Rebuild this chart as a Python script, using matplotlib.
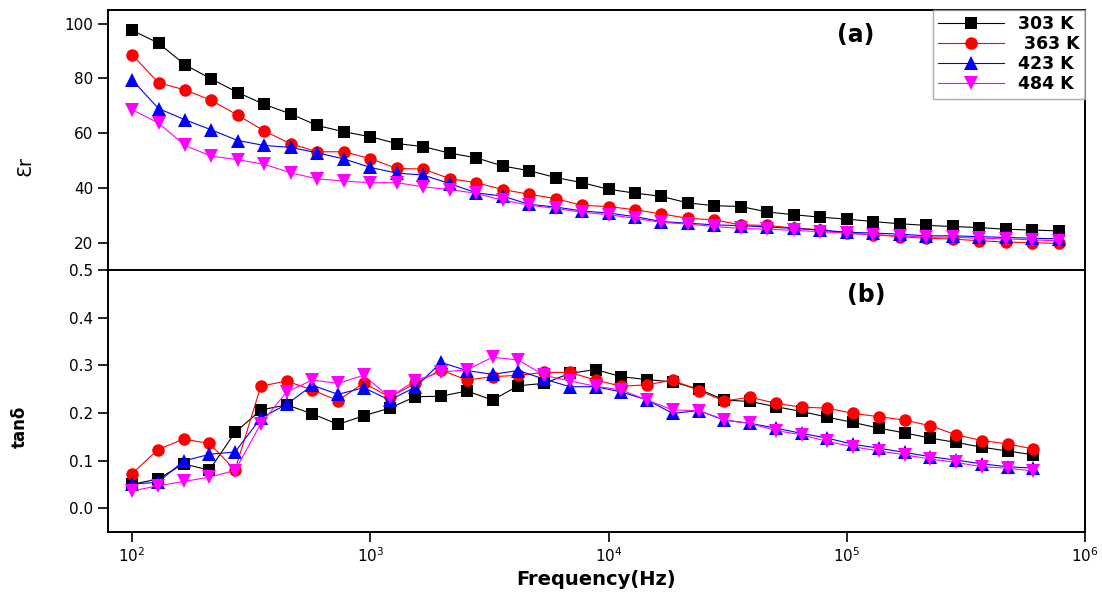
import matplotlib
matplotlib.use("Agg")
import matplotlib.pyplot as plt
from matplotlib.ticker import LogLocator, NullLocator, FixedLocator

plt.rcParams["font.family"] = ["DejaVu Sans"]

# --- data -------------------------------------------------------------------
labels = ["303 K", " 363 K", "423 K", "484 K"]

# frequency points of panel (a)
freq_eps = [100, 129.2, 166.8, 215.4, 278.3, 359.4, 464.2, 599.5, 774.3,
            1000, 1292, 1668, 2154, 2783, 3594, 4642, 5995, 7743,
            10000, 12915, 16681, 21544, 27826, 35938, 46416, 59948, 77426,
            100000, 129155, 166810, 215443, 278256, 359381, 464159, 599484,
            774264]

# frequency points of panel (b)
freq_tan = [100, 128.3, 164.6, 211.1, 270.7, 347.3, 445.5, 571.4, 732.8,
            939.6, 1205, 1546, 1983, 2543, 3261, 4183, 5366, 6882, 8827,
            11321, 14521, 18626, 23889, 30641, 39300, 50408, 64657, 82929,
            106360, 136430, 174980, 224420, 287920, 369250, 473600, 607530]

eps_303 = [97.6, 92.9, 85.0, 79.8, 74.8, 70.5, 67.0, 62.8, 60.5, 58.7,
           56.2, 55.1, 52.7, 51.0, 48.0, 46.3, 43.8, 41.9,
           39.5, 38.1, 36.9, 34.5, 33.5, 33.2, 31.2, 30.2, 29.3,
           28.6, 27.7, 26.9, 26.3, 25.9, 25.5, 24.9, 24.6, 24.3]
eps_363 = [88.7, 78.4, 75.8, 72.0, 66.5, 60.8, 56.1, 53.2, 53.2, 50.7,
           47.1, 46.9, 43.4, 41.9, 39.4, 37.7, 36.1, 33.6,
           33.2, 32.0, 30.5, 28.9, 28.3, 26.5, 26.3, 25.3, 24.7,
           23.4, 22.9, 22.2, 21.6, 21.3, 20.7, 20.2, 20.0, 19.7]
eps_423 = [79.5, 69.0, 64.9, 61.2, 57.3, 55.5, 54.8, 52.8, 50.6, 47.5,
           45.4, 44.7, 41.6, 38.2, 37.0, 34.0, 33.0, 31.6,
           30.8, 29.5, 27.7, 27.1, 26.5, 26.2, 25.7, 25.2, 24.6,
           23.8, 23.5, 23.1, 22.5, 22.5, 22.2, 21.9, 21.6, 21.4]
eps_484 = [68.6, 63.7, 55.5, 51.6, 50.3, 48.6, 45.5, 43.3, 42.5, 41.9,
           41.9, 40.4, 39.4, 38.0, 35.5, 33.7, 32.5, 31.1,
           30.2, 28.9, 27.4, 26.8, 25.9, 25.2, 24.9, 24.5, 24.0,
           23.5, 22.9, 22.5, 22.0, 22.0, 21.6, 21.4, 21.0, 20.7]

tan_303 = [0.050, 0.061, 0.093, 0.080, 0.159, 0.206, 0.217, 0.198, 0.176, 0.194,
           0.210, 0.234, 0.235, 0.246, 0.227, 0.257, 0.262, 0.283, 0.291,
           0.276, 0.270, 0.265, 0.250, 0.227, 0.224,
           0.213, 0.203, 0.191, 0.180, 0.168, 0.158, 0.147, 0.138, 0.128,
           0.120, 0.112]
tan_363 = [0.072, 0.123, 0.145, 0.136, 0.080, 0.256, 0.267, 0.248, 0.226, 0.263,
           0.233, 0.262, 0.290, 0.269, 0.276, 0.279, 0.285, 0.285, 0.269,
           0.256, 0.259, 0.269, 0.247, 0.225, 0.233,
           0.220, 0.212, 0.210, 0.199, 0.192, 0.185, 0.173, 0.154, 0.142,
           0.135, 0.124]
tan_423 = [0.051, 0.054, 0.099, 0.113, 0.118, 0.189, 0.218, 0.258, 0.239, 0.253,
           0.227, 0.254, 0.306, 0.289, 0.281, 0.289, 0.271, 0.255, 0.255,
           0.244, 0.227, 0.199, 0.205, 0.185, 0.178,
           0.168, 0.157, 0.147, 0.134, 0.126, 0.117, 0.108, 0.101, 0.093,
           0.087, 0.084]
tan_484 = [0.036, 0.047, 0.056, 0.065, 0.079, 0.177, 0.244, 0.269, 0.262, 0.279,
           0.233, 0.268, 0.286, 0.290, 0.317, 0.311, 0.279, 0.267, 0.256,
           0.248, 0.227, 0.206, 0.205, 0.185, 0.178,
           0.163, 0.154, 0.140, 0.129, 0.120, 0.112, 0.103, 0.096, 0.087,
           0.084, 0.078]

eps_series = [eps_303, eps_363, eps_423, eps_484]
tan_series = [tan_303, tan_363, tan_423, tan_484]
colors = ["black", "red", "blue", "magenta"]
markers = ["s", "o", "^", "v"]
msizes = [8, 9, 9.5, 9.5]

# --- figure -----------------------------------------------------------------
fig = plt.figure(figsize=(11.02, 5.95), dpi=100)
ax1 = fig.add_axes([0.098, 0.5462, 0.8866, 0.4370])
ax2 = fig.add_axes([0.098, 0.1059, 0.8866, 0.4403])

for ys, c, m, ms, lab in zip(eps_series, colors, markers, msizes, labels):
    ax1.plot(freq_eps, ys, color=c, marker=m, markersize=ms, lw=0.8,
             markeredgewidth=0, label=lab)
for ys, c, m, ms in zip(tan_series, colors, markers, msizes):
    ax2.plot(freq_tan, ys, color=c, marker=m, markersize=ms, lw=0.8,
             markeredgewidth=0)

for ax in (ax1, ax2):
    ax.set_xscale("log")
    ax.set_xlim(79.3, 1e6)
    for s in ax.spines.values():
        s.set_linewidth(1.4)
    ax.tick_params(axis="both", which="major", direction="out", length=7,
                   width=1.2, labelsize=11, top=False, right=False)
    ax.tick_params(axis="x", which="minor", bottom=False, top=False)

ax1.set_ylim(10, 105)
ax1.yaxis.set_major_locator(FixedLocator([20, 40, 60, 80, 100]))
ax1.xaxis.set_major_locator(NullLocator())
ax1.xaxis.set_minor_locator(NullLocator())

ax2.set_ylim(-0.05, 0.5)
ax2.yaxis.set_major_locator(FixedLocator([0.0, 0.1, 0.2, 0.3, 0.4, 0.5]))
ax2.yaxis.set_major_formatter(plt.FuncFormatter(lambda v, p: f"{v:.1f}"))
ax2.xaxis.set_major_locator(LogLocator(base=10, numticks=10))
ax2.xaxis.set_minor_locator(NullLocator())
ax2.tick_params(axis="x", pad=3)

ax1.set_ylabel("Ɛr", fontsize=14)
ax1.yaxis.set_label_coords(-0.075, 0.40)
ax2.set_ylabel("tanδ", fontsize=12, fontweight="bold")
ax2.yaxis.set_label_coords(-0.081, 0.40)
ax2.set_xlabel("Frequency(Hz)", fontsize=14, fontweight="bold", labelpad=4)

ax1.text(0.765, 0.905, "(a)", transform=ax1.transAxes, fontsize=17,
         fontweight="bold", ha="center", va="center")
ax2.text(0.776, 0.905, "(b)", transform=ax2.transAxes, fontsize=17,
         fontweight="bold", ha="center", va="center")

leg = ax1.legend(loc="upper right", borderaxespad=0, fancybox=False,
                 frameon=True, handlelength=3.8, labelspacing=0.12,
                 borderpad=0.3, prop={"weight": "bold", "size": 12.5})
leg.get_frame().set_edgecolor("#999999")
leg.get_frame().set_linewidth(1.0)

fig.savefig("out.png", dpi=100)
